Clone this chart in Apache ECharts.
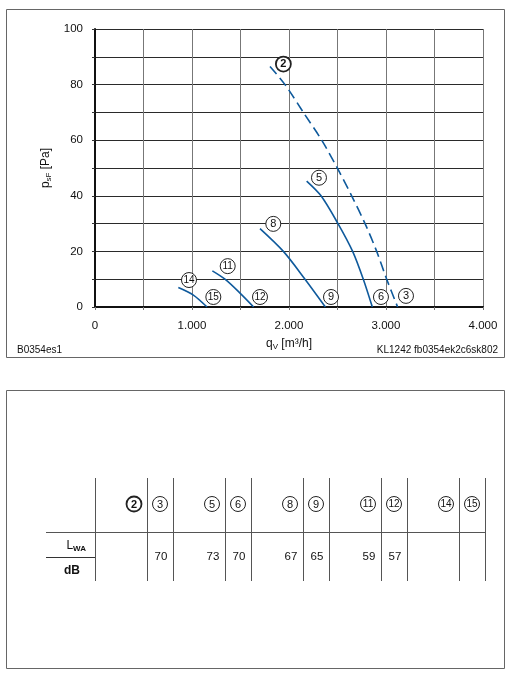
<!DOCTYPE html>
<html>
<head>
<meta charset="utf-8">
<script src="https://cdn.jsdelivr.net/npm/echarts@6/dist/echarts.min.js"></script>
<style>
html,body{margin:0;padding:0;background:#fff;}
#main{width:510px;height:680px;}
</style>
</head>
<body>
<div id="main"></div>
<script>
// ---- Data ----
const xTicks = [0, 1000, 2000, 3000, 4000];
const yTicks = [0, 20, 40, 60, 80, 100];

const curve2 = [[1804,86.5],[1959,80],[2148,70],[2337,60],[2498,50],[2646,40],[2784,30],[2904,20],[3007,10],[3120,0]];
const curve5 = [[2182,45.3],[2330,40],[2505,30],[2656,20],[2766,10],[2859,0]];
const curve8 = [[1701,28.2],[1942,20],[2165,10],[2375,0]];
const curve11 = [[1210,13],[1340,10],[1495,5],[1635,0]];
const curve14 = [[859,7],[1014,4.3],[1155,0]];

const markerIds = ['2','5','8','11','14','15','12','9','6','3'];
const markerX   = [1942, 2309, 1838, 1368, 969, 1220, 1701, 2433, 2948, 3206];
const markerY   = [87.4, 46.5, 29.9, 14.7, 9.7, 3.6, 3.6, 3.6, 3.6, 4.0];

const tableIds = ['2','3','5','6','8','9','11','12','14','15'];
const lwaDb    = [null,70,73,70,67,65,59,57,null,null];

// ---- Chart ----
const chart = echarts.init(document.getElementById('main'), null, {renderer:'canvas'});
const FONT = 'Liberation Sans, Arial, sans-serif';
const blue = '#0f5a9c';

function fmtThousands(v){
  if (v === 0) return '0';
  const s = String(v);
  return s.replace(/\B(?=(\d{3})+(?!\d))/g, '.');
}

const markerData = markerIds.map((id,i)=>({
  name:id, value:[markerX[i], markerY[i]],
  itemStyle: id==='2' ? {borderWidth:1.8} : undefined,
  label: id==='2' ? {fontWeight:'bold', fontSize:11} : (id.length>1 ? {fontSize:10} : undefined)
}));

// Table graphics
const G = [];
const tL = 95, groupW = 78, wideW = 52, narrowW = 26;
const vTop = 478, vBot = 581, hY = 532, circY = 504, valY = 557;
G.push({type:'rect', shape:{x:6.5,y:9.5,width:498,height:348}, style:{fill:null, stroke:'#666', lineWidth:1}, silent:true});
G.push({type:'rect', shape:{x:6.5,y:390.5,width:498,height:278}, style:{fill:null, stroke:'#666', lineWidth:1}, silent:true});
G.push({type:'text', x:17, y:350, style:{text:'B0354es1', font:'10px '+FONT, fill:'#111', verticalAlign:'middle', align:'left'}});
G.push({type:'text', x:498, y:350, style:{text:'KL1242 fb0354ek2c6sk802', font:'10px '+FONT, fill:'#111', verticalAlign:'middle', align:'right'}});

G.push({type:'line', shape:{x1:tL+0.5,y1:vTop,x2:tL+0.5,y2:vBot}, style:{stroke:'#555', lineWidth:1}});
G.push({type:'line', shape:{x1:46,y1:hY+0.5,x2:tL+5*groupW+1,y2:hY+0.5}, style:{stroke:'#555', lineWidth:1}});
G.push({type:'line', shape:{x1:46,y1:557.5,x2:tL,y2:557.5}, style:{stroke:'#333', lineWidth:1}});
G.push({type:'text', x:86, y:546, style:{rich:{l:{fontSize:12, fontFamily:FONT, fill:'#111'}, s:{fontSize:8, fontWeight:'bold', fontFamily:FONT, fill:'#111', padding:[5,0,0,0]}}, text:'{l|L}{s|WA}', align:'right', verticalAlign:'middle'}});
G.push({type:'text', x:72, y:571, style:{text:'dB', font:'bold 12px '+FONT, fill:'#111', align:'center', verticalAlign:'middle'}});

tableIds.forEach((id,i)=>{
  const g = Math.floor(i/2), second = i%2===1;
  const x0 = tL + g*groupW;
  const cx = second ? x0+wideW+narrowW/2 : x0+wideW-13;
  const lineX = second ? x0+groupW : x0+wideW;
  G.push({type:'line', shape:{x1:lineX+0.5,y1:vTop,x2:lineX+0.5,y2:vBot}, style:{stroke:'#555', lineWidth:1}});
  G.push({type:'circle', shape:{cx:cx, cy:circY, r:7.5}, style:{fill:'#fff', stroke:'#222', lineWidth: id==='2'?1.8:1}});
  G.push({type:'text', x:cx, y:circY+0.5, style:{text:id, font:(id==='2'?'bold ':'')+(id.length>1?'10px ':'11px ')+FONT, fill:'#111', align:'center', verticalAlign:'middle'}});
  if (lwaDb[i] !== null) {
    G.push({type:'text', x:cx+1, y:valY, style:{text:String(lwaDb[i]), font:'11.5px '+FONT, fill:'#111', align:'center', verticalAlign:'middle'}});
  }
});

function lineSeries(data, dashed){
  return {type:'line', data:data, smooth:0.3, showSymbol:false, symbol:'none',
    lineStyle:{color:blue, width:1.6, type: dashed ? [10,5] : 'solid'}, z:3, silent:true, animation:false};
}

const option = {
  animation:false,
  backgroundColor:'#fff',
  grid:{left:95, top:29, width:388, height:278, containLabel:false},
  xAxis:{
    type:'value', min:0, max:4000, interval:500,
    name:'{q|q}{s|V} {q|[m³/h]}', nameLocation:'middle', nameGap:30,
    nameTextStyle:{rich:{q:{fontSize:12, fontFamily:FONT, color:'#111'}, s:{fontSize:8, fontFamily:FONT, color:'#111', padding:[6,0,0,0]}}},
    axisLine:{show:true, onZero:false, lineStyle:{color:'#111', width:2}},
    axisTick:{show:true, length:3, lineStyle:{color:'#777'}},
    axisLabel:{margin:13, fontSize:11.5, fontFamily:FONT, color:'#111',
      formatter:v => (v % 1000 === 0 ? fmtThousands(v) : '')},
    splitLine:{show:true, lineStyle:{color:'#777', width:1}}
  },
  yAxis:{
    type:'value', min:0, max:100, interval:10,
    name:'{q|p}{s|sF} {q|[Pa]}', nameLocation:'middle', nameGap:34, nameRotate:90,
    nameTextStyle:{rich:{q:{fontSize:12, fontFamily:FONT, color:'#111'}, s:{fontSize:8, fontFamily:FONT, color:'#111', padding:[6,0,0,0]}}},
    axisLine:{show:true, onZero:false, lineStyle:{color:'#111', width:2}},
    axisTick:{show:true, length:3, lineStyle:{color:'#333'}},
    axisLabel:{margin:12, fontSize:11.5, fontFamily:FONT, color:'#111',
      formatter:v => (yTicks.indexOf(v) >= 0 ? String(v) : '')},
    splitLine:{show:true, lineStyle:{color:'#2a2a2a', width:1}}
  },
  series:[
    lineSeries(curve2, true),
    lineSeries(curve5, false),
    lineSeries(curve8, false),
    lineSeries(curve11, false),
    lineSeries(curve14, false),
    {type:'scatter', data:markerData, symbol:'circle', symbolSize:15, z:5, silent:true,
     itemStyle:{color:'#fff', borderColor:'#222', borderWidth:1, opacity:1},
     label:{show:true, position:'inside', formatter:p=>p.name, fontSize:11, fontFamily:FONT, color:'#111'}}
  ],
  graphic:G
};
chart.setOption(option);
</script>
</body>
</html>
